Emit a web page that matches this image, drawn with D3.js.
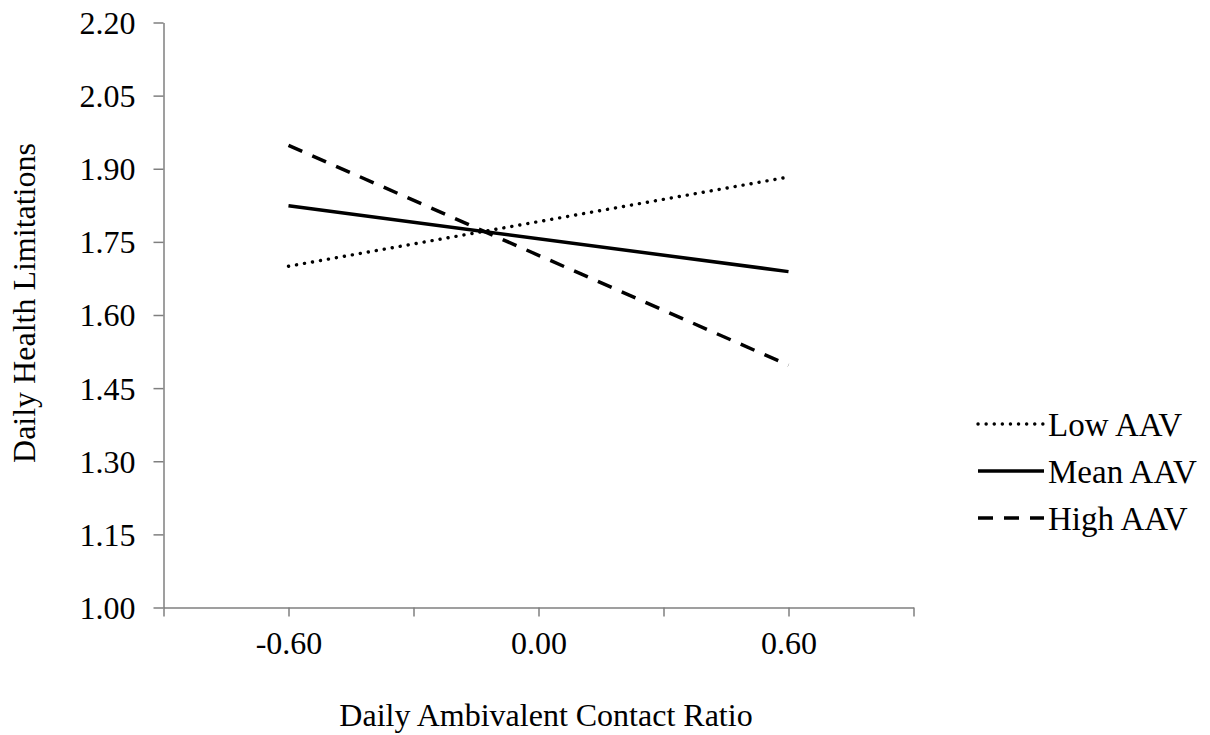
<!DOCTYPE html>
<html><head><meta charset="utf-8">
<script src="https://cdn.jsdelivr.net/npm/d3@7"></script>
<style>body{margin:0;background:#fff}</style>
</head><body>
<svg id="c" width="1210" height="735"></svg>
<script>
const xTicks = [-0.9, -0.6, -0.3, 0, 0.3, 0.6, 0.9];
const xLabels = ["", "-0.60", "", "0.00", "", "0.60", ""];
const yTicks = [1.00, 1.15, 1.30, 1.45, 1.60, 1.75, 1.90, 2.05, 2.20];
const xValues = [-0.6, 0.6];
const seriesNames = ["Low AAV", "Mean AAV", "High AAV"];
const lowAAV = [1.700, 1.883];
const meanAAV = [1.824, 1.689];
const highAAV = [1.948, 1.497];

const svg = d3.select("#c");
const font = "'Liberation Serif','Times New Roman',serif";
const x = d3.scaleLinear().domain([-0.9, 0.9]).range([163.5, 913.5]);
const y = d3.scaleLinear().domain([1.0, 2.2]).range([607.5, 22.5]);
const axisColor = "#7f7f7f";

const xa = svg.append("g").attr("transform", "translate(0,607.5)")
  .call(d3.axisBottom(x).tickValues(xTicks).tickSize(9).tickSizeOuter(0)
    .tickFormat((d, i) => xLabels[i]));
xa.select(".domain").attr("stroke", axisColor).attr("stroke-width", 1.5);
xa.selectAll(".tick line").attr("stroke", axisColor).attr("stroke-width", 1.5);
xa.selectAll(".tick text").attr("font-family", font).attr("font-size", 32)
  .attr("fill", "#000").attr("dy", "1.08em");

const ya = svg.append("g").attr("transform", "translate(163.5,0)")
  .call(d3.axisLeft(y).tickValues(yTicks).tickSize(10).tickSizeOuter(0)
    .tickFormat(d3.format(".2f")));
ya.select(".domain").attr("stroke", axisColor).attr("stroke-width", 1.5);
ya.selectAll(".tick line").attr("stroke", axisColor).attr("stroke-width", 1.5);
ya.selectAll(".tick text").attr("font-family", font).attr("font-size", 32)
  .attr("fill", "#000").attr("x", -28).attr("dy", "0.34em");

const styles = [
  {dash: "0.1,8", width: 3.4, cap: "round"},
  {dash: null, width: 3.5, cap: "butt"},
  {dash: "15,11", width: 3.5, cap: "butt"}
];
const data = [lowAAV, meanAAV, highAAV];
const line = d3.line().x((d, i) => x(xValues[i])).y(d => y(d));
data.forEach((vals, k) => {
  svg.append("path").datum(vals).attr("d", line)
    .attr("fill", "none").attr("stroke", "#000")
    .attr("stroke-width", styles[k].width)
    .attr("stroke-linecap", styles[k].cap)
    .attr("stroke-dasharray", styles[k].dash);
});

// legend
const lg = svg.append("g");
seriesNames.forEach((name, k) => {
  const ly = 424 + k * 47;
  lg.append("line").attr("x1", 978).attr("x2", 1044).attr("y1", ly).attr("y2", ly)
    .attr("stroke", "#000").attr("stroke-width", styles[k].width)
    .attr("stroke-linecap", styles[k].cap)
    .attr("stroke-dasharray", styles[k].dash);
  lg.append("text").attr("x", 1048).attr("y", ly).attr("dy", "0.35em")
    .attr("font-family", font).attr("font-size", 33).attr("fill", "#000").text(name);
});

svg.append("text").attr("x", 546).attr("y", 726).attr("text-anchor", "middle")
  .attr("font-family", font).attr("font-size", 32).attr("fill", "#000")
  .text("Daily Ambivalent Contact Ratio");
svg.append("text").attr("transform", "translate(35,303) rotate(-90)").attr("text-anchor", "middle")
  .attr("font-family", font).attr("font-size", 32).attr("fill", "#000")
  .text("Daily Health Limitations");
</script>
</body></html>
